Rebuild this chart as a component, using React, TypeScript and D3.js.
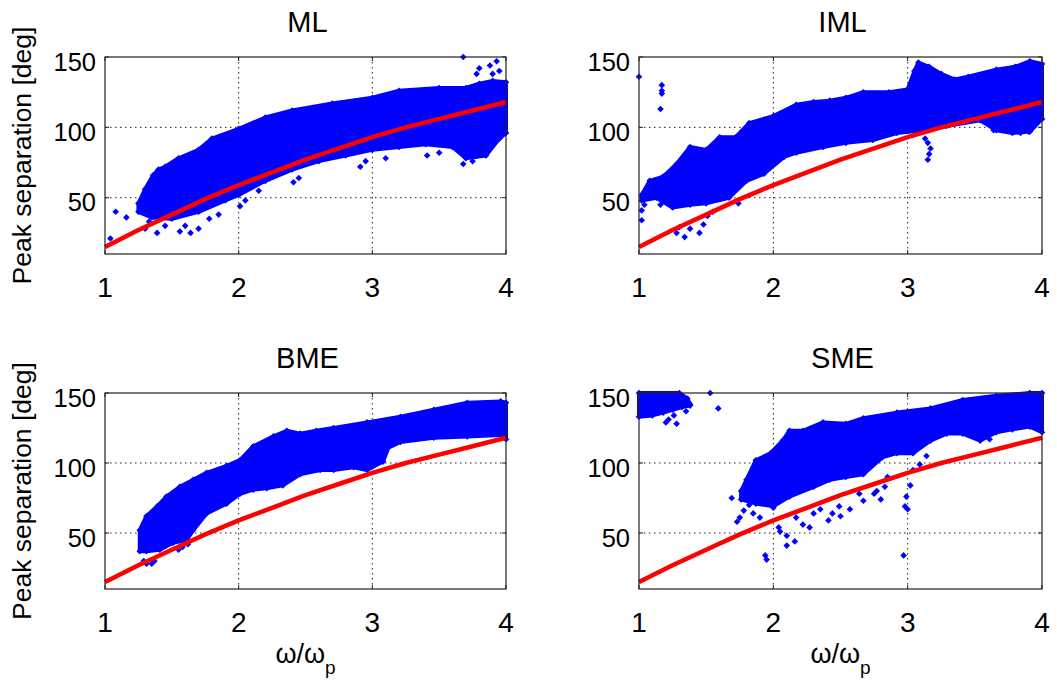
import React from "react";
import * as d3 from "d3";

type P = [number, number];

const xTicks = [1, 2, 3, 4];
const yTicks = [50, 100, 150];
const xDomain: P = [1, 4];
const yDomain: P = [10, 150];

// Red reference curve (same in every panel)
const redCurve: P[] = [[1, 15], [1.25, 27], [1.5, 38], [1.75, 49], [2, 59], [2.25, 68], [2.5, 77], [2.75, 85], [3, 93], [3.25, 100], [3.5, 106], [3.75, 112], [4, 118]];

// ML
const mlUpper: P[] = [[1.25, 46], [1.3, 56], [1.36, 66], [1.4, 70], [1.45, 72], [1.55, 78], [1.7, 84], [1.8, 92], [2.0, 99], [2.2, 107], [2.4, 112], [2.7, 117], [3.0, 121], [3.2, 126], [3.5, 128], [3.7, 128], [3.8, 131], [3.9, 133], [4.0, 132]];
const mlLower: P[] = [[1.25, 40], [1.35, 36], [1.5, 35], [1.7, 40], [1.9, 48], [2.0, 52], [2.2, 62], [2.4, 70], [2.6, 76], [2.8, 80], [3.0, 84], [3.2, 86], [3.4, 88], [3.6, 86], [3.7, 78], [3.85, 80], [3.95, 92], [4.0, 96]];
const mlPoints: P[] = [[1.04, 21], [1.08, 40], [1.16, 36], [1.3, 28], [1.33, 33], [1.39, 25], [1.45, 30], [1.56, 26], [1.64, 25], [1.7, 28], [1.6, 30], [1.78, 35], [1.85, 38], [2.01, 44], [2.05, 48], [2.15, 55], [2.41, 61], [2.45, 64], [2.91, 72], [2.95, 76], [3.1, 78], [3.41, 80], [3.5, 82], [3.68, 74], [3.75, 76], [3.68, 150], [3.78, 138], [3.8, 142], [3.88, 144], [3.93, 147], [3.86, 131], [3.9, 138], [3.95, 140]];

// IML
const imlUpper: P[] = [[1.02, 52], [1.08, 62], [1.18, 65], [1.28, 74], [1.38, 86], [1.5, 84], [1.6, 93], [1.72, 93], [1.82, 103], [2.0, 108], [2.17, 116], [2.3, 118], [2.42, 119], [2.54, 121], [2.67, 125], [2.86, 125], [3.0, 127], [3.05, 140], [3.08, 146], [3.16, 143], [3.25, 138], [3.35, 134], [3.45, 136], [3.66, 141], [3.8, 143], [3.91, 147], [4.0, 145]];
const imlLower: P[] = [[1.02, 48], [1.13, 50], [1.25, 43], [1.38, 45], [1.5, 46], [1.67, 50], [1.8, 62], [1.93, 67], [2.08, 79], [2.17, 82], [2.37, 86], [2.54, 89], [2.74, 91], [2.92, 96], [3.11, 98], [3.29, 101], [3.54, 105], [3.66, 98], [3.78, 96], [3.91, 97], [4.0, 106]];
const imlPoints: P[] = [[1.0, 136], [1.17, 130], [1.17, 126], [1.17, 124], [1.16, 113], [1.02, 34], [1.02, 41], [1.04, 45], [1.16, 45], [1.28, 25], [1.3, 29], [1.34, 22], [1.38, 28], [1.45, 25], [1.48, 31], [1.51, 37], [1.55, 40], [1.74, 46], [3.13, 92], [3.15, 89], [3.17, 85], [3.16, 81], [3.15, 77], [3.64, 98], [3.72, 99], [3.84, 96], [3.9, 97]];

// BME
const bmeUpper: P[] = [[1.26, 52], [1.31, 62], [1.39, 69], [1.46, 76], [1.56, 83], [1.66, 88], [1.76, 93], [1.91, 98], [2.01, 102], [2.11, 112], [2.26, 119], [2.36, 123], [2.46, 121], [2.58, 123], [2.71, 125], [2.96, 129], [3.21, 133], [3.46, 138], [3.71, 143], [3.96, 144], [4.0, 143]];
const bmeLower: P[] = [[1.26, 37], [1.31, 37], [1.41, 38], [1.51, 43], [1.61, 45], [1.66, 52], [1.76, 64], [1.91, 71], [2.01, 78], [2.11, 81], [2.21, 82], [2.33, 84], [2.46, 92], [2.61, 95], [2.71, 95], [2.86, 97], [2.96, 95], [3.08, 101], [3.12, 111], [3.21, 115], [3.46, 118], [3.71, 119], [3.96, 120], [4.0, 117]];
const bmePoints: P[] = [[1.29, 30], [1.31, 28], [1.35, 28], [1.37, 30], [1.55, 38], [1.58, 40], [1.62, 42]];

// SME
const smeUpper: P[] = [[1.76, 80], [1.8, 88], [1.87, 102], [1.98, 107], [2.07, 116], [2.12, 123], [2.22, 123], [2.37, 129], [2.54, 128], [2.67, 132], [2.92, 136], [3.17, 139], [3.41, 145], [3.66, 148], [3.91, 150], [4.0, 150]];
const smeLower: P[] = [[1.76, 74], [1.87, 71], [2.0, 69], [2.12, 76], [2.3, 83], [2.42, 88], [2.54, 90], [2.67, 92], [2.81, 104], [2.92, 107], [3.04, 107], [3.17, 116], [3.29, 121], [3.41, 121], [3.54, 116], [3.66, 122], [3.78, 124], [3.91, 126], [4.0, 122]];
const smeClusterUpper: P[] = [[1.0, 150], [1.3, 150], [1.36, 146], [1.38, 142]];
const smeClusterLower: P[] = [[1.0, 133], [1.1, 134], [1.18, 136], [1.25, 138], [1.32, 140], [1.38, 141]];
const smePoints: P[] = [[1.2, 129], [1.22, 131], [1.28, 128], [1.26, 134], [1.35, 137], [1.37, 143], [1.53, 150], [1.59, 139], [1.69, 75], [1.73, 58], [1.75, 61], [1.78, 66], [1.82, 70], [1.85, 64], [1.9, 61], [1.92, 72], [1.94, 34], [1.95, 31], [2.0, 68], [2.04, 54], [2.05, 51], [2.1, 41], [2.1, 48], [2.16, 44], [2.17, 61], [2.22, 56], [2.27, 54], [2.3, 64], [2.35, 67], [2.41, 59], [2.44, 64], [2.49, 69], [2.5, 62], [2.57, 67], [2.64, 78], [2.67, 73], [2.75, 78], [2.77, 80], [2.8, 74], [2.83, 83], [2.85, 90], [2.97, 34], [2.98, 69], [2.99, 76], [3.02, 84], [3.0, 67], [3.04, 95], [3.09, 99], [3.14, 105], [3.61, 117], [3.58, 120]];

const W = 1057;
const H = 682;
const FONT = "'Liberation Sans', Arial, Helvetica, sans-serif";
const BLUE = "#0000ff";
const RED = "#ff0000";

type PanelProps = {
  title: string;
  left: number; top: number; width: number; height: number;
  bands: [P[], P[]][];
  points: P[];
  yLabel: boolean;
  xLabel: boolean;
};

function Panel({ title, left, top, width, height, bands, points, yLabel, xLabel }: PanelProps) {
  const xs = d3.scaleLinear().domain(xDomain).range([left, left + width]);
  const ys = d3.scaleLinear().domain(yDomain).range([top + height, top]);
  const line = d3.line<P>().x(d => xs(d[0])).y(d => ys(d[1]));
  const bottom = top + height;
  const right = left + width;
  const diamond = (x: number, y: number) => {
    const r = 3.3;
    return `M${x},${y - r}L${x + r},${y}L${x},${y + r}L${x - r},${y}Z`;
  };
  return (
    <g>
      <text x={(left + right) / 2 + 2} y={top - 25} textAnchor="middle" fontSize={29} fontFamily={FONT}>{title}</text>
      {/* grid */}
      {xTicks.filter(t => t > xDomain[0] && t < xDomain[1]).map(t => (
        <line key={"gx" + t} x1={xs(t)} x2={xs(t)} y1={top} y2={bottom} stroke="#222" strokeWidth={1} strokeDasharray="1.5,3.5" />
      ))}
      {yTicks.filter(t => t > yDomain[0] && t < yDomain[1]).map(t => (
        <line key={"gy" + t} x1={left} x2={right} y1={ys(t)} y2={ys(t)} stroke="#222" strokeWidth={1} strokeDasharray="1.5,3.5" />
      ))}
      {/* dense bands */}
      {bands.map(([up, lo], i) => (
        <path key={"b" + i} d={(line([...up, ...lo.slice().reverse()]) || "") + "Z"} fill={BLUE} stroke={BLUE} strokeWidth={4} strokeLinejoin="round" />
      ))}
      {/* envelope markers for a ragged edge */}
      {bands.map(([up, lo], i) => [...up, ...lo].map((p, j) => (
        <path key={"e" + i + "-" + j} d={diamond(xs(p[0]), ys(p[1]))} fill={BLUE} />
      )))}
      {/* scatter points */}
      {points.map((p, i) => (
        <path key={"p" + i} d={diamond(xs(p[0]), ys(p[1]))} fill={BLUE} />
      ))}
      {/* red curve */}
      <path d={line(redCurve) || ""} fill="none" stroke={RED} strokeWidth={4.5} strokeLinejoin="round" />
      {/* box */}
      <rect x={left} y={top} width={width} height={height} fill="none" stroke="#222" strokeWidth={1.2} />
      {/* ticks */}
      {xTicks.map(t => (
        <g key={"tx" + t}>
          <line x1={xs(t)} x2={xs(t)} y1={bottom} y2={bottom - 4} stroke="#222" />
          <line x1={xs(t)} x2={xs(t)} y1={top} y2={top + 4} stroke="#222" />
          <text x={xs(t)} y={bottom + 43} textAnchor="middle" fontSize={28} fontFamily={FONT}>{t}</text>
        </g>
      ))}
      {yTicks.map(t => (
        <g key={"ty" + t}>
          <line x1={left} x2={left + 4} y1={ys(t)} y2={ys(t)} stroke="#222" />
          <line x1={right} x2={right - 4} y1={ys(t)} y2={ys(t)} stroke="#222" />
          <text x={left - 9} y={ys(t) + 13.5} textAnchor="end" fontSize={25.5} fontFamily={FONT}>{t}</text>
        </g>
      ))}
      {yLabel && (
        <text transform={`translate(${31},${(top + bottom) / 2}) rotate(-90)`} textAnchor="middle" fontSize={26.5} fontFamily={FONT}>Peak separation [deg]</text>
      )}
      {xLabel && (
        <text x={(left + right) / 2} y={bottom + 74} textAnchor="middle" fontSize={27} fontFamily={FONT}>
          ω/ω<tspan fontSize={19} dy={11}>p</tspan>
        </text>
      )}
    </g>
  );
}

export default function App() {
  return (
    <svg width={W} height={H} style={{ position: "absolute", left: 0, top: 0, background: "#fff" }}>
      <rect x={0} y={0} width={W} height={H} fill="#fff" />
      <Panel title="ML" left={105} top={57} width={401} height={197} bands={[[mlUpper, mlLower]]} points={mlPoints} yLabel xLabel={false} />
      <Panel title="IML" left={639} top={57} width={403} height={197} bands={[[imlUpper, imlLower]]} points={imlPoints} yLabel={false} xLabel={false} />
      <Panel title="BME" left={105} top={393} width={401} height={196} bands={[[bmeUpper, bmeLower]]} points={bmePoints} yLabel xLabel />
      <Panel title="SME" left={639} top={393} width={403} height={196} bands={[[smeUpper, smeLower], [smeClusterUpper, smeClusterLower]]} points={smePoints} yLabel={false} xLabel />
    </svg>
  );
}
